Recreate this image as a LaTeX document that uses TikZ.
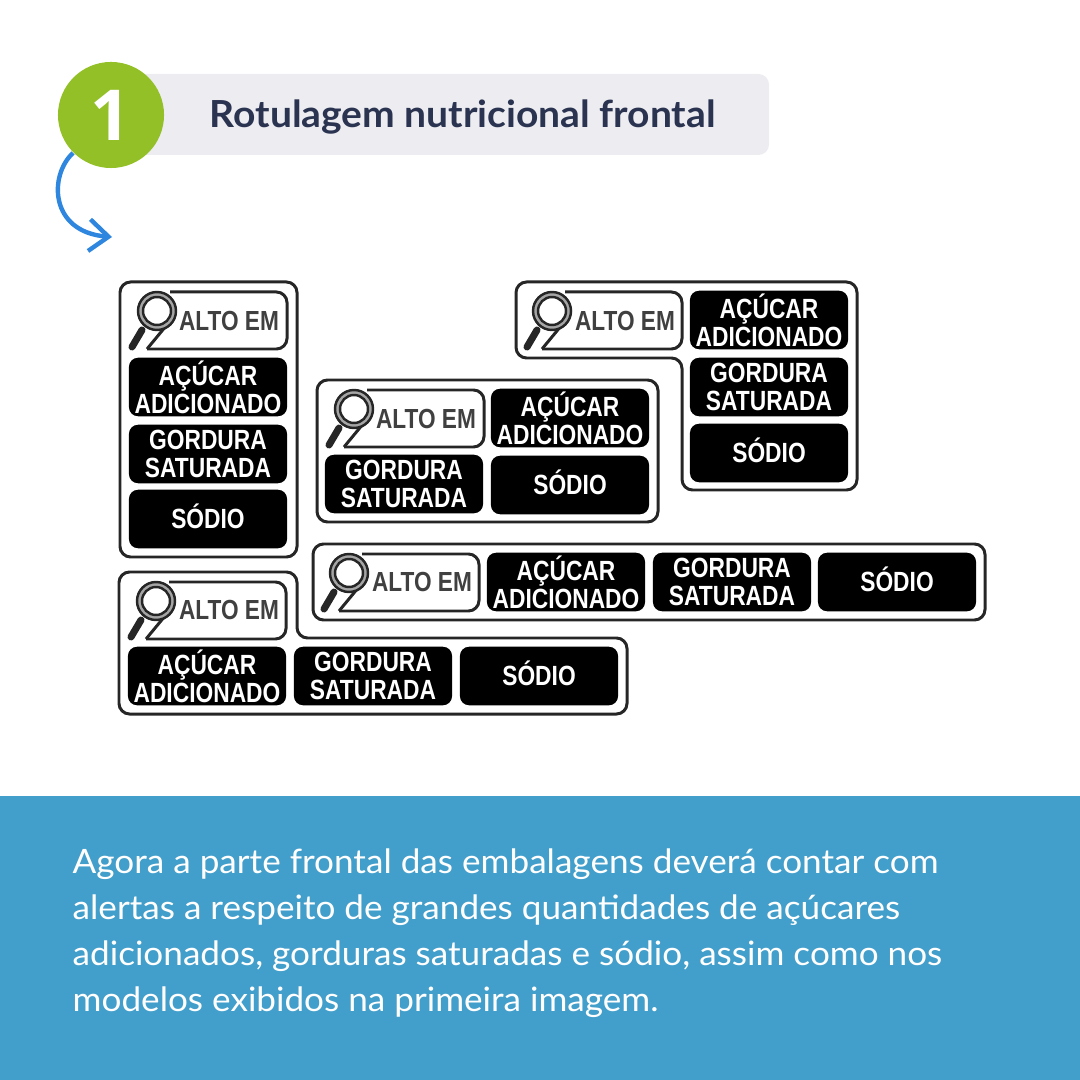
\documentclass[tikz,border=0pt]{standalone}
\usepackage{fontspec}
\setmainfont[FakeStretch=1.046]{Lato}
\newfontfamily\numerofont{Open Sans}
\newfontfamily\rotulofont[FakeStretch=0.82]{Liberation Sans}
\usetikzlibrary{arrows.meta}
\definecolor{faixa}{HTML}{429ECA}
\definecolor{pilula}{HTML}{ECECF1}
\definecolor{verde}{HTML}{92C026}
\definecolor{azul}{HTML}{2F86DE}
\definecolor{tinta}{HTML}{2A3350}
\tikzset{
    contorno/.style={draw=black!85,line width=0.85pt,rounded corners=3pt},
    tarja/.style={fill=black,rounded corners=2.6pt,minimum width=1.58cm,minimum height=0.585cm,inner sep=0pt,
        text=white,align=center,font=\rotulofont\bfseries\fontsize{7.9}{7.95}\selectfont},
    tarjaum/.style={tarja,text height=5.66pt,text depth=0pt},
    altoem/.style={anchor=center,inner sep=0pt,text=black!75,font=\rotulofont\bfseries\fontsize{7.85}{8}\selectfont},
    lupa/.pic={
        \draw[contorno] (17,57) -- (157,57) [rounded corners=3pt] -- (157,0) -- (40,0);
        \draw[draw=black!85,line width=0.85pt] (17,57) -- (36,34);
        \draw[black!85,line width=2pt,line cap=round] (12,38) -- (2,55);
        \draw[black!35,line width=1pt,fill=white] (27,19) circle (16.5);
        \draw[black!85,line width=0.7pt] (27,19) circle (19);
        \draw[black!85,line width=0.7pt] (27,19) circle (14);
    }
}
\begin{document}
\begin{tikzpicture}[x=0.01cm,y=-0.01cm]
    \useasboundingbox (0,0) rectangle (1080,1080);
    \fill[faixa] (0,796) rectangle (1080,1080);
    \fill[pilula,rounded corners=3pt] (130,74) rectangle (769,155);
    \node[circle,fill=verde,minimum size=1.06cm,inner sep=0pt,text=white,font=\numerofont\bfseries\fontsize{20}{20}\selectfont] (um) at (111,115) {1};
    \node[anchor=west,inner sep=0pt,text=tinta,font=\bfseries\fontsize{10.6}{12}\selectfont] (titulo) at (209,117) {Rotulagem nutricional frontal};
    \coordinate (ponta) at (112,237);
    \draw[azul,line width=1.25pt,-{Straight Barb[length=5.5pt,width=9pt]}] (um.225) .. controls (49,175) and (49,232) .. (ponta);

    % vertical
    \draw[contorno] (120,282) rectangle (297,557);
    \pic at (130,292) {lupa};
    \node[altoem] (altoA) at (229,321) {ALTO EM};
    \node[tarja] (acucarA) at (208,387) {AÇÚCAR\\ADICIONADO};
    \node[tarja] (gorduraA) at (208,454) {GORDURA\\SATURADA};
    \node[tarjaum] (sodioA) at (208,519) {SÓDIO};

    % degrau superior
    \draw[contorno] (516,282) -- (857,282) -- (857,490) -- (682,490) -- (682,358) -- (516,358) -- cycle;
    \pic at (525,292) {lupa};
    \node[altoem] (altoB) at (625,321) {ALTO EM};
    \node[tarja] (acucarB) at (769,320) {AÇÚCAR\\ADICIONADO};
    \node[tarja] (gorduraB) at (769,387) {GORDURA\\SATURADA};
    \node[tarjaum] (sodioB) at (769,453) {SÓDIO};

    % central
    \draw[contorno] (317,380) rectangle (658,522);
    \pic at (327,390) {lupa};
    \node[altoem] (altoC) at (426,419) {ALTO EM};
    \node[tarja] (acucarC) at (570,418) {AÇÚCAR\\ADICIONADO};
    \node[tarja] (gorduraC) at (404,484) {GORDURA\\SATURADA};
    \node[tarjaum] (sodioC) at (570,485) {SÓDIO};

    % horizontal
    \draw[contorno] (313,544) rectangle (985,620);
    \pic at (322,554) {lupa};
    \node[altoem] (altoD) at (422,582) {ALTO EM};
    \node[tarja] (acucarD) at (566,582) {AÇÚCAR\\ADICIONADO};
    \node[tarja] (gorduraD) at (732,582) {GORDURA\\SATURADA};
    \node[tarjaum] (sodioD) at (897,582) {SÓDIO};

    % degrau inferior
    \draw[contorno] (119,572) -- (297,572) -- (297,638) -- (627,638) -- (627,714) -- (119,714) -- cycle;
    \pic at (129,582) {lupa};
    \node[altoem] (altoE) at (229,610) {ALTO EM};
    \node[tarja] (acucarE) at (207,676) {AÇÚCAR\\ADICIONADO};
    \node[tarja] (gorduraE) at (373,676) {GORDURA\\SATURADA};
    \node[tarjaum] (sodioE) at (539,676) {SÓDIO};

    \node[anchor=north west,inner sep=0pt,text=white,align=left,font=\fontsize{9.55}{13.04}\selectfont] (texto) at (72,848)
        {Agora a parte frontal das embalagens deverá contar com\\
         alertas a respeito de grandes quantidades de açúcares\\
         adicionados, gorduras saturadas e sódio, assim como nos\\
         modelos exibidos na primeira imagem.};
\end{tikzpicture}
\end{document}
